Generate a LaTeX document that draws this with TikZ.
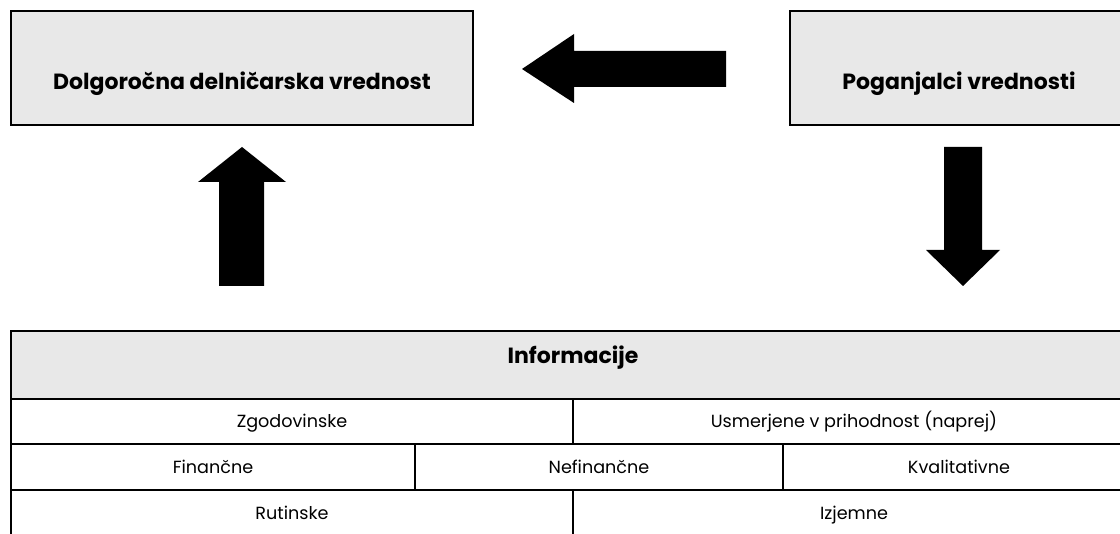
\documentclass[tikz,border=0pt]{standalone}
\usepackage{fontspec}
\setmainfont{Poppins}
\definecolor{boxgray}{HTML}{E8E8E8}
\begin{document}
\begin{tikzpicture}[x=1pt,y=-1pt,
  box/.style={draw=black, line width=2pt, fill=boxgray, inner sep=0pt},
  cell/.style={draw=black, line width=2pt, inner sep=0pt, text height=12.3pt, text depth=0pt},
  blockarrow/.style={fill=black, draw=none},
  heading/.style={inner sep=0pt, text height=15.4pt, text depth=0pt, font=\bfseries\fontsize{22}{26}\selectfont},
  entry/.style={font=\fontsize{17.6}{21}\selectfont}]
\useasboundingbox (0,0) rectangle (1120,534);
\clip (0,0) rectangle (1120,534);

% top boxes
\node[box, minimum width=462pt, minimum height=114pt] (value) at (242,68.5) {};
\node[heading] (valuetext) at (242,81.5) {Dolgoročna delničarska vrednost};
\node[box, minimum width=338pt, minimum height=114pt] (drivers) at (959,68.5) {};
\node[heading] (driverstext) at (959,81.5) {Poganjalci vrednosti};

% block arrows
\fill[blockarrow] (522,69) -- (574,34) -- (574,51) -- (726,51) -- (726,87)
  -- (574,87) -- (574,103) -- cycle;
\fill[blockarrow] (242,147) -- (286,182) -- (264,182) -- (264,286) -- (219,286)
  -- (219,182) -- (198,182) -- cycle;
\fill[blockarrow] (963,286) -- (1000,250) -- (982,250) -- (982,147) -- (944,147)
  -- (944,250) -- (926,250) -- cycle;

% information table
\node[box, minimum width=1124pt, minimum height=68pt] (info) at (573,365) {};
\node[heading] (infotext) at (573,355.5) {Informacije};
\node[cell, minimum width=562pt, minimum height=45pt, entry] (hist) at (292,421.5) {Zgodovinske};
\node[cell, minimum width=562pt, minimum height=45pt, entry] (fwd) at (854,421.5) {Usmerjene v prihodnost (naprej)};
\node[cell, minimum width=404pt, minimum height=46pt, entry] (fin) at (213,467) {Finančne};
\node[cell, minimum width=368pt, minimum height=46pt, entry] (nonfin) at (599,467) {Nefinančne};
\node[cell, minimum width=352pt, minimum height=46pt, entry] (qual) at (959,467) {Kvalitativne};
\node[cell, minimum width=562pt, minimum height=46pt, entry] (rout) at (292,513) {Rutinske};
\node[cell, minimum width=562pt, minimum height=46pt, entry] (exc) at (854,513) {Izjemne};
\end{tikzpicture}
\end{document}
